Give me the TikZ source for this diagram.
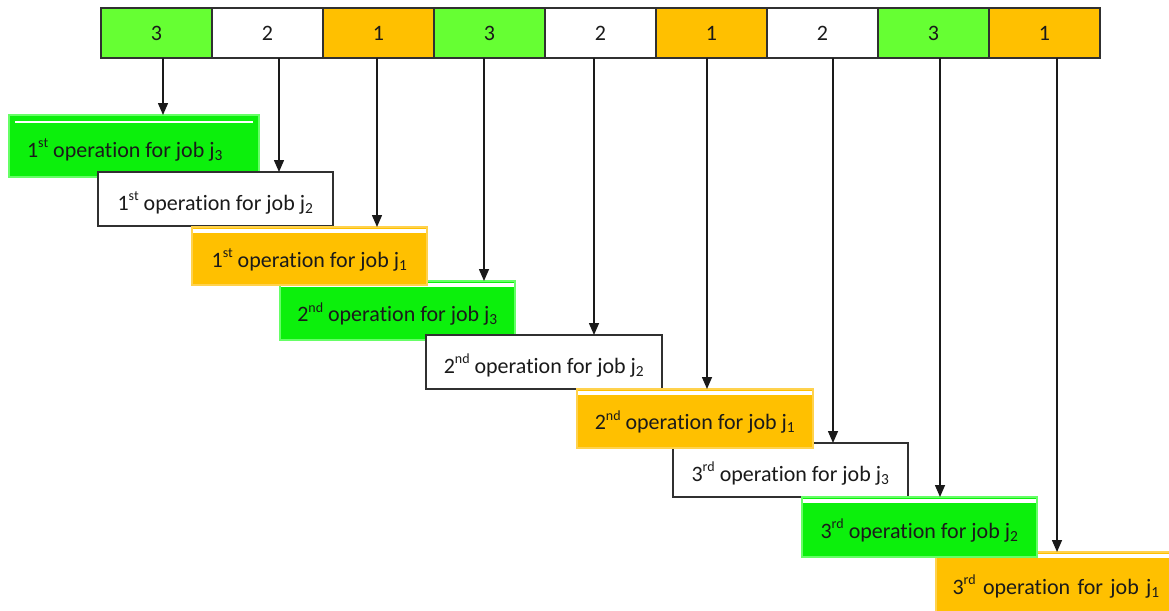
\documentclass[tikz,border=0pt]{standalone}
\usepackage{fontspec}
\setmainfont{Carlito}[Ligatures=NoCommon]
\usetikzlibrary{arrows.meta}
\definecolor{cellgreen}{HTML}{66FF33}
\definecolor{cellorange}{HTML}{FFC000}
\definecolor{opgreen}{HTML}{0CF00C}
\definecolor{opgreenedge}{HTML}{66FF66}
\definecolor{oporange}{HTML}{FFC000}
\definecolor{oporangeedge}{HTML}{FFD24D}
\definecolor{edgegray}{HTML}{303030}
\definecolor{inkdark}{HTML}{1A1A1A}
\tikzset{
  txt/.style={font=\fontsize{22}{26}\selectfont, text=inkdark},
  cell/.style={txt, draw=edgegray, line width=1.3pt, minimum width=111pt,
    minimum height=50pt, inner sep=0pt, outer sep=0pt, anchor=north west},
  % baseline set about 11pt below the box centre
  opbox/.style={txt, inner sep=0pt, outer sep=0pt, anchor=north west,
    text height=26pt, text depth=4pt},
  plainop/.style={opbox, fill=white, draw=edgegray, line width=1.2pt},
  topband/.style={path picture={\fill[white]
      ([yshift=-1.5pt]path picture bounding box.north west) rectangle
      ([yshift=-5.5pt]path picture bounding box.north east);}},
  greenop/.style={opbox, fill=opgreen, draw=opgreenedge, line width=1.3pt, topband},
  orangeop/.style={opbox, fill=oporange, draw=oporangeedge, line width=1.3pt, topband},
  arr/.style={draw=inkdark, line width=1.5pt, -{Triangle[length=12pt,width=10pt]}}
}
% ordinal suffix, set small and raised
\newcommand{\ordsup}[1]{\raisebox{0.9ex}{\fontsize{14}{16}\selectfont #1}}
\newcommand{\op}[2]{#1 operation for job j\textsubscript{#2}}
\begin{document}
\begin{tikzpicture}[x=1pt, y=-1pt]
\useasboundingbox (0,0) rectangle (1169,610);

% sequence strip
\node[cell, fill=cellgreen]  (c1) at (101,8) {3};
\node[cell, fill=white]      (c2) at (212,8) {2};
\node[cell, fill=cellorange] (c3) at (323,8) {1};
\node[cell, fill=cellgreen]  (c4) at (434,8) {3};
\node[cell, fill=white]      (c5) at (545,8) {2};
\node[cell, fill=cellorange] (c6) at (656,8) {1};
\node[cell, fill=white]      (c7) at (767,8) {2};
\node[cell, fill=cellgreen]  (c8) at (878,8) {3};
\node[cell, fill=cellorange] (c9) at (989,8) {1};

% operation boxes
\node[opbox, fill=opgreen, draw=opgreenedge, line width=1.3pt,
  minimum width=250pt, minimum height=62pt,
  path picture={\draw[white, line width=1.2pt]
      ([xshift=6pt,yshift=-7pt]path picture bounding box.north west) --
      ([xshift=-6pt,yshift=-7pt]path picture bounding box.north east);}]
  (b1) at (9,115) {\hspace*{-18pt}\op{1\ordsup{st}}{3}};
\node[plainop, minimum width=235pt, minimum height=54pt]
  (b2) at (98,172) {\op{1\ordsup{st}}{2}};
\node[greenop, minimum width=235pt, minimum height=59pt]
  (b4) at (280,281) {\op{2\ordsup{nd}}{3}};
\node[orangeop, minimum width=235pt, minimum height=58pt]
  (b3) at (192,227) {\op{1\ordsup{st}}{1}};
\node[plainop, minimum width=236pt, minimum height=54pt]
  (b5) at (426,335) {\op{2\ordsup{nd}}{2}};
\node[plainop, minimum width=235pt, minimum height=54pt]
  (b7) at (673,443) {\op{3\ordsup{rd}}{3}};
\node[orangeop, minimum width=236pt, minimum height=59pt]
  (b6) at (577,389) {\op{2\ordsup{nd}}{1}};
\node[orangeop, minimum width=240pt, minimum height=62pt, text width=233pt, align=left]
  (b9) at (936,552) {\hspace*{13pt}\op{3\ordsup{rd}}{1}};
\node[greenop, minimum width=235pt, minimum height=60pt]
  (b8) at (802,497) {\op{3\ordsup{rd}}{2}};

% arrows from the strip to the boxes
\draw[arr] ([xshift=6.5pt]c1.south)  -- ([xshift=6.5pt]c1.south |- b1.north);
\draw[arr] ([xshift=11.5pt]c2.south) -- ([xshift=11.5pt]c2.south |- b2.north);
\draw[arr] ([xshift=-1.5pt]c3.south) -- ([xshift=-1.5pt]c3.south |- b3.north);
\draw[arr] ([xshift=-5.5pt]c4.south) -- ([xshift=-5.5pt]c4.south |- b4.north);
\draw[arr] ([xshift=-6.5pt]c5.south) -- ([xshift=-6.5pt]c5.south |- b5.north);
\draw[arr] ([xshift=-4.5pt]c6.south) -- ([xshift=-4.5pt]c6.south |- b6.north);
\draw[arr] ([xshift=10.5pt]c7.south) -- ([xshift=10.5pt]c7.south |- b7.north);
\draw[arr] ([xshift=6.5pt]c8.south)  -- ([xshift=6.5pt]c8.south |- b8.north);
\draw[arr] ([xshift=12.5pt]c9.south) -- ([xshift=12.5pt]c9.south |- b9.north);
\end{tikzpicture}
\end{document}
